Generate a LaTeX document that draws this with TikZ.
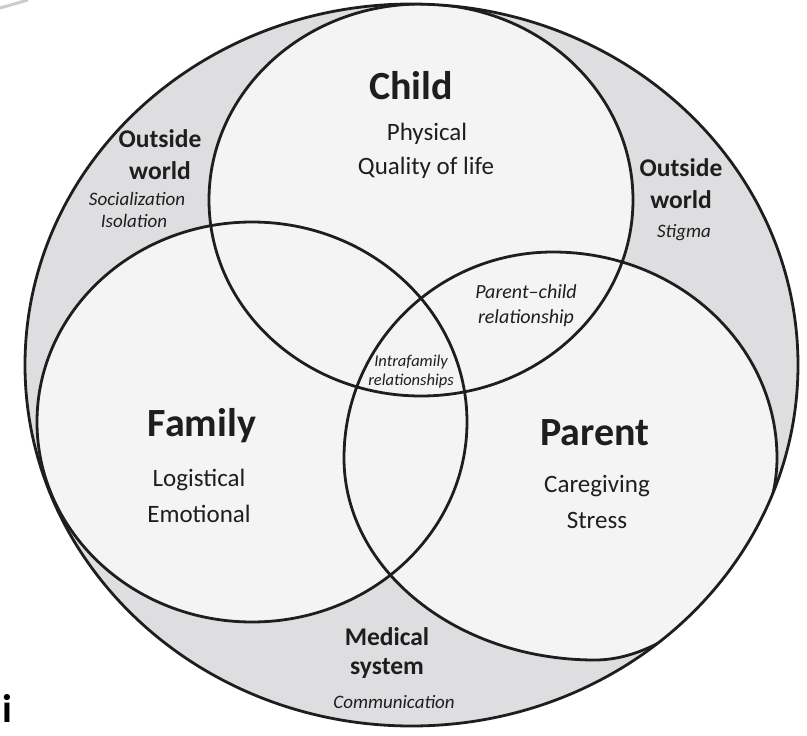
\documentclass[tikz,border=0pt]{standalone}
\usepackage{fontspec}
\setmainfont{Carlito}
\definecolor{ringgray}{HTML}{DEDEE0}
\definecolor{inwhite}{HTML}{F4F4F4}
\definecolor{inkline}{HTML}{1E1E1E}
\begin{document}
\begin{tikzpicture}[x=1pt,y=-1pt,
  outline/.style={draw=inkline,line width=2.8pt},
  title/.style={font=\fontsize{40}{40}\selectfont\bfseries,text=inkline},
  sub/.style={font=\fontsize{25}{25}\selectfont,text=inkline},
  owb/.style={font=\fontsize{25.5}{25}\selectfont\bfseries,text=inkline},
  owi/.style={font=\fontsize{19}{19}\selectfont\itshape,text=inkline},
  pci/.style={font=\fontsize{20}{20}\selectfont\itshape,text=inkline},
  ifi/.style={font=\fontsize{16.5}{16}\selectfont\itshape,text=inkline}]
\useasboundingbox (0,0) rectangle (807,736);
\def\parentpath{(344,458) .. controls (344,344.2) and (437.6,252) .. (553,252)
  .. controls (676.7,252) and (777,344.2) .. (777,458)
  .. controls (777,555) and (682,660) .. (595,660)
  .. controls (456.4,660) and (344,569.6) .. (344,458) -- cycle}
\def\outerpath{(411.5,365) ellipse [x radius=386.5, y radius=361]}
% outer fill
\fill[ringgray] \outerpath;
\begin{scope}
  \clip \outerpath;
  \fill[inwhite] (421,200) ellipse [x radius=212, y radius=196];
  \fill[inwhite] (252,422) ellipse [x radius=215, y radius=200];
  \fill[inwhite] \parentpath;
  \draw[outline] (421,200) ellipse [x radius=212, y radius=196];
  \draw[outline] (252,422) ellipse [x radius=215, y radius=200];
  \draw[outline] \parentpath;
\end{scope}
\draw[outline] \outerpath;
% corner artifact
\draw[gray!40,line width=3pt] (0,8) -- (28,0);
% texts
\node[title] (child) at (411,86) {Child};
\node[sub] (phys) at (427,134) {Physical};
\node[sub] (qol) at (426,168) {Quality of life};
\node[owb] (ow1) at (160,139) {Outside};
\node[owb] (ow1b) at (160,171) {world};
\node[owi] (soc) at (137,199) {Socialization};
\node[owi] (iso) at (134,221) {Isolation};
\node[owb] (ow2) at (681,168) {Outside};
\node[owb] (ow2b) at (681,200) {world};
\node[owi] (stig) at (684,233) {Stigma};
\node[pci] (pc1) at (526,292) {Parent–child};
\node[pci] (pc2) at (526,318) {relationship};
\node[ifi] (if1) at (411,362) {Intrafamily};
\node[ifi] (if2) at (411,381) {relationships};
\node[title] (fam) at (202,426) {Family};
\node[sub] (log) at (199,480) {Logistical};
\node[sub] (emo) at (199,514) {Emotional};
\node[title] (par) at (595,433) {Parent};
\node[sub] (care) at (597,486) {Caregiving};
\node[sub] (str) at (597,520) {Stress};
\node[owb] (med) at (387,637) {Medical};
\node[owb] (sys) at (387,668) {system};
\node[owi] (comm) at (394,702) {Communication};
\begin{scope}
\clip (0,690) rectangle (40,736);
\node[font=\fontsize{40}{40}\selectfont\bfseries,anchor=north west,inner sep=0pt] (ichar) at (2,694) {i};
\end{scope}
\end{tikzpicture}
\end{document}
